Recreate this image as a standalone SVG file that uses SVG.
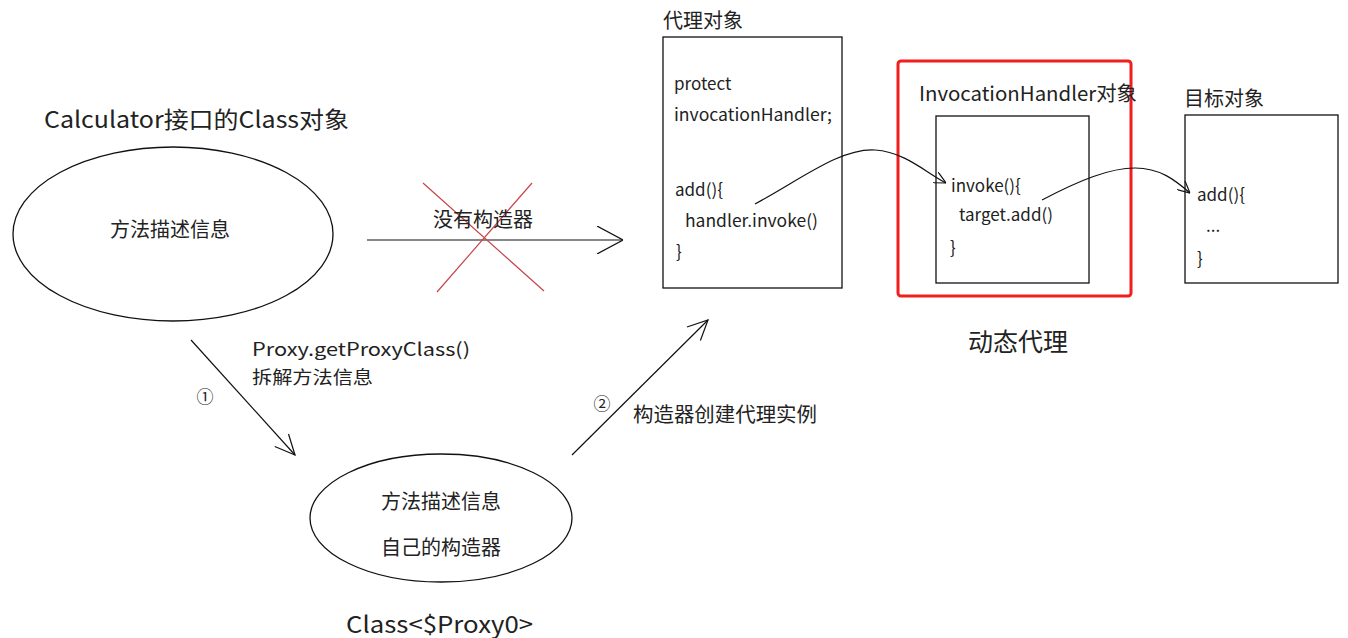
<svg xmlns="http://www.w3.org/2000/svg" width="1348" height="638" viewBox="0 0 1348 638">
<style>
text{font-family:"Noto Sans CJK SC","Noto Sans",sans-serif;fill:#222;dominant-baseline:central}
.t{font-size:23px}
.b{font-size:20px}
.s{font-size:18px}
.c{font-size:17px}
.shape{fill:none;stroke:#111;stroke-width:1.3}
.ln{fill:none;stroke:#111;stroke-width:1.2}
.bigarr{marker-end:url(#big)}
.smallarr{marker-end:url(#small)}
</style>
<defs>
<marker id="big" viewBox="0 0 26 28" refX="26" refY="14" markerWidth="26" markerHeight="28" markerUnits="userSpaceOnUse" orient="auto">
<path d="M0,0 L26,14 L0,28" fill="none" stroke="#111" stroke-width="1.2"/>
</marker>
<marker id="small" viewBox="0 0 12 12" refX="12" refY="6" markerWidth="12" markerHeight="12" markerUnits="userSpaceOnUse" orient="auto">
<path d="M0,0 L12,6 L0,12" fill="none" stroke="#111" stroke-width="1.2"/>
</marker>
</defs>
<rect width="1348" height="638" fill="#fff"/>

<g id="calculator-class">
<text class="t" x="44" y="118" textLength="305" lengthAdjust="spacingAndGlyphs">Calculator接口的Class对象</text>
<ellipse class="shape" cx="173" cy="234" rx="160" ry="87"/>
<text class="b" x="170" y="228" text-anchor="middle">方法描述信息</text>
</g>

<g id="proxy-class">
<ellipse class="shape" cx="441" cy="518" rx="131" ry="64"/>
<text class="b" x="441" y="500" text-anchor="middle">方法描述信息</text>
<text class="b" x="441" y="546" text-anchor="middle">自己的构造器</text>
<text class="t" x="346" y="623" textLength="187" lengthAdjust="spacingAndGlyphs">Class&lt;$Proxy0&gt;</text>
</g>

<g id="proxy-object">
<text class="b" x="663" y="19">代理对象</text>
<rect class="shape" x="663" y="37" width="179" height="251"/>
<text class="c" x="674" y="82">protect</text>
<text class="c" x="674" y="113" textLength="158" lengthAdjust="spacingAndGlyphs">invocationHandler;</text>
<text class="c" x="675" y="188">add(){</text>
<text class="c" x="685" y="219" textLength="133" lengthAdjust="spacingAndGlyphs">handler.invoke()</text>
<text class="c" x="676" y="250">}</text>
</g>

<g id="invocation-handler">
<rect x="898" y="61" width="233" height="235" rx="3" fill="none" stroke="#f21d1d" stroke-width="3"/>
<text class="b" x="919" y="92" textLength="218" lengthAdjust="spacingAndGlyphs">InvocationHandler对象</text>
<rect class="shape" x="936" y="116" width="153" height="167"/>
<text class="c" x="951" y="184">invoke(){</text>
<text class="c" x="959" y="213">target.add()</text>
<text class="c" x="950" y="246">}</text>
</g>

<g id="target-object">
<text class="b" x="1184" y="97">目标对象</text>
<rect class="shape" x="1185" y="115" width="153" height="168"/>
<text class="c" x="1197" y="193">add(){</text>
<text class="c" x="1206" y="224">...</text>
<text class="c" x="1197" y="257">}</text>
</g>

<g id="dynamic-proxy-label">
<text x="1018" y="340" text-anchor="middle" style="font-size:25px">动态代理</text>
</g>

<g id="connectors">
<path class="ln bigarr" d="M367,240 L623,240"/>
<path d="M423,183 L544,291 M532,183 L437,292" fill="none" stroke="#c8454a" stroke-width="1.2"/>
<text class="b" x="483" y="218" text-anchor="middle">没有构造器</text>

<path class="ln" d="M191,340 L295,455"/>
<path class="ln" d="M288.5,434 L295,455 L274.8,446.5"/>
<text class="c" x="205" y="395" text-anchor="middle">①</text>
<text class="s" x="252" y="348" textLength="218" lengthAdjust="spacingAndGlyphs">Proxy.getProxyClass()</text>
<text class="s" x="252" y="376" textLength="121" lengthAdjust="spacingAndGlyphs">拆解方法信息</text>

<path class="ln" d="M572,455 L708,320"/>
<path class="ln" d="M687,327 L708,320 L700.4,340.5"/>
<text class="c" x="602" y="402" text-anchor="middle">②</text>
<text class="b" x="633" y="413" textLength="184" lengthAdjust="spacingAndGlyphs">构造器创建代理实例</text>

<path class="ln smallarr" d="M755,204 C800,180 840,148 875,150 C905,152 925,172 946,183"/>
<path class="ln smallarr" d="M1042,200 C1080,180 1110,168 1135,168 C1160,168 1175,180 1190,193"/>
</g>
</svg>
